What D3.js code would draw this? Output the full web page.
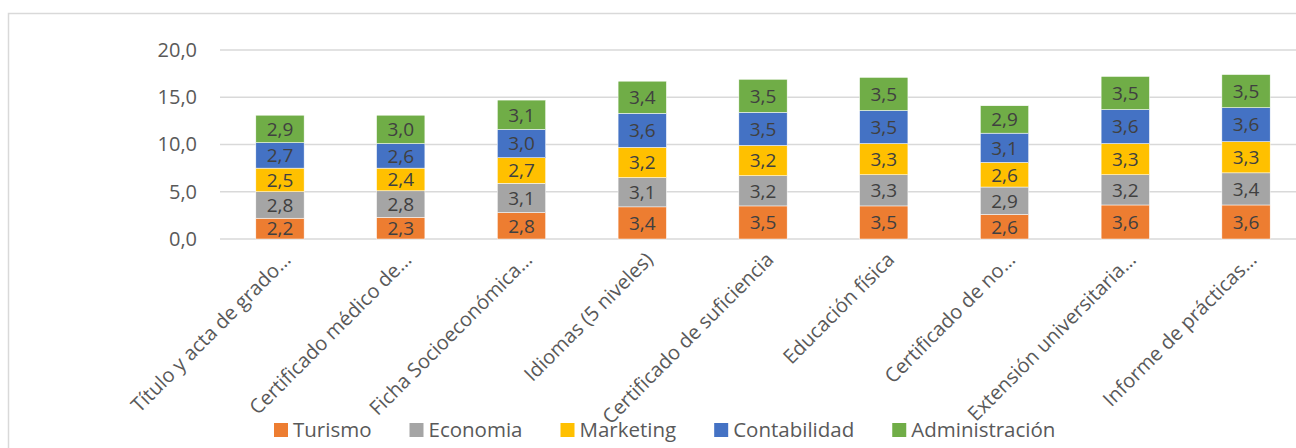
<!DOCTYPE html>
<html>
<head>
	<script src="https://cdn.jsdelivr.net/npm/d3@7"></script>
	<style>
		html, body {
			padding: 0;
			margin: 0;
			background: #ffffff;
		}
		text {
			font-family: "Open Sans", sans-serif;
		}
	</style>
</head>
<body>
	<script>
		var width = 1296, height = 448;

		var categories = ["Título y acta de grado…", "Certificado médico de…", "Ficha Socioeconómica…",
			"Idiomas (5 niveles)", "Certificado de suficiencia", "Educación física",
			"Certificado de no…", "Extensión universitaria…", "Informe de prácticas…"];

		var seriesNames = ["Turismo", "Economia", "Marketing", "Contabilidad", "Administración"];
		var colors = ["#ED7D31", "#A5A5A5", "#FFC000", "#4472C4", "#70AD47"];

		var turismo        = [2.2, 2.3, 2.8, 3.4, 3.5, 3.5, 2.6, 3.6, 3.6];
		var economia       = [2.8, 2.8, 3.1, 3.1, 3.2, 3.3, 2.9, 3.2, 3.4];
		var marketing      = [2.5, 2.4, 2.7, 3.2, 3.2, 3.3, 2.6, 3.3, 3.3];
		var contabilidad   = [2.7, 2.6, 3.0, 3.6, 3.5, 3.5, 3.1, 3.6, 3.6];
		var administracion = [2.9, 3.0, 3.1, 3.4, 3.5, 3.5, 2.9, 3.5, 3.5];

		var yTicks = [0, 5, 10, 15, 20];

		var seriesValues = [turismo, economia, marketing, contabilidad, administracion];

		// rows for d3.stack
		var rows = categories.map(function (c, i) {
			var r = { cat: c };
			seriesNames.forEach(function (s, j) { r[s] = seriesValues[j][i]; });
			return r;
		});
		var stacked = d3.stack().keys(seriesNames)(rows);

		var svg = d3.select('body').append('svg')
			.attr('width', width)
			.attr('height', height);

		// chart area border
		svg.append('rect')
			.attr('x', 8.5).attr('y', 13.5)
			.attr('width', 1400).attr('height', 600)
			.attr('fill', 'none')
			.attr('stroke', '#d9d9d9')
			.attr('stroke-width', 1.5);

		var x = d3.scaleBand()
			.domain(categories)
			.range([219.6, 1306.4])
			.paddingInner(0.6)
			.paddingOuter(0.3);

		var y = d3.scaleLinear()
			.domain([0, 20])
			.range([239, 50]);

		var fmt = function (v) { return d3.format('.1f')(v).replace('.', ','); };

		// gridlines
		svg.append('g').selectAll('line')
			.data(yTicks)
			.enter().append('line')
			.attr('x1', 220).attr('x2', 1306)
			.attr('y1', function (d) { return y(d); })
			.attr('y2', function (d) { return y(d); })
			.attr('stroke', '#d9d9d9')
			.attr('stroke-width', 1.5);

		// y axis labels
		var yAxis = d3.axisLeft(y).tickValues(yTicks).tickFormat(fmt).tickSize(0).tickPadding(0);
		var yg = svg.append('g').attr('transform', 'translate(197,0)').call(yAxis);
		yg.select('.domain').remove();
		yg.selectAll('text')
			.attr('fill', '#595959')
			.style('font-size', '20px')
			.style('font-family', '"Open Sans", sans-serif');

		// bars
		var layers = svg.append('g').selectAll('g')
			.data(stacked)
			.enter().append('g')
			.attr('fill', function (d, i) { return colors[i]; });

		layers.selectAll('rect')
			.data(function (d) { return d; })
			.enter().append('rect')
			.attr('x', function (d) { return x(d.data.cat); })
			.attr('width', x.bandwidth())
			.attr('y', function (d) { return y(d[1]); })
			.attr('height', function (d) { return y(d[0]) - y(d[1]); })
			.attr('stroke', '#ffffff')
			.attr('stroke-width', 0.5);

		// data labels
		layers.selectAll('text')
			.data(function (d) { return d; })
			.enter().append('text')
			.attr('x', function (d) { return x(d.data.cat) + x.bandwidth() / 2; })
			.attr('y', function (d) { return (y(d[0]) + y(d[1])) / 2; })
			.attr('dy', '0.36em')
			.attr('text-anchor', 'middle')
			.attr('fill', '#404040')
			.style('font-size', '19px')
			.text(function (d) { return fmt(d[1] - d[0]); });

		// category labels, rotated
		svg.append('g').selectAll('text')
			.data(categories)
			.enter().append('text')
			.attr('transform', function (d) {
				return 'translate(' + (x(d) + x.bandwidth() / 2 + 7) + ',256) rotate(-45)';
			})
			.attr('text-anchor', 'end')
			.attr('dy', '0.35em')
			.attr('fill', '#595959')
			.style('font-size', '20px')
			.text(function (d) { return d; });

		// legend
		var legend = svg.append('g').attr('transform', 'translate(274,430)');
		var lx = 0;
		seriesNames.forEach(function (s, i) {
			var g = legend.append('g').attr('transform', 'translate(' + lx + ',0)');
			g.append('rect')
				.attr('x', 0).attr('y', -7)
				.attr('width', 14).attr('height', 14)
				.attr('fill', colors[i]);
			var t = g.append('text')
				.attr('x', 19).attr('y', 0)
				.attr('dy', '0.35em')
				.attr('fill', '#595959')
				.style('font-size', '20.5px')
				.text(s);
			lx += 19 + t.node().getComputedTextLength() + 38;
		});
	</script>
</body>
</html>
